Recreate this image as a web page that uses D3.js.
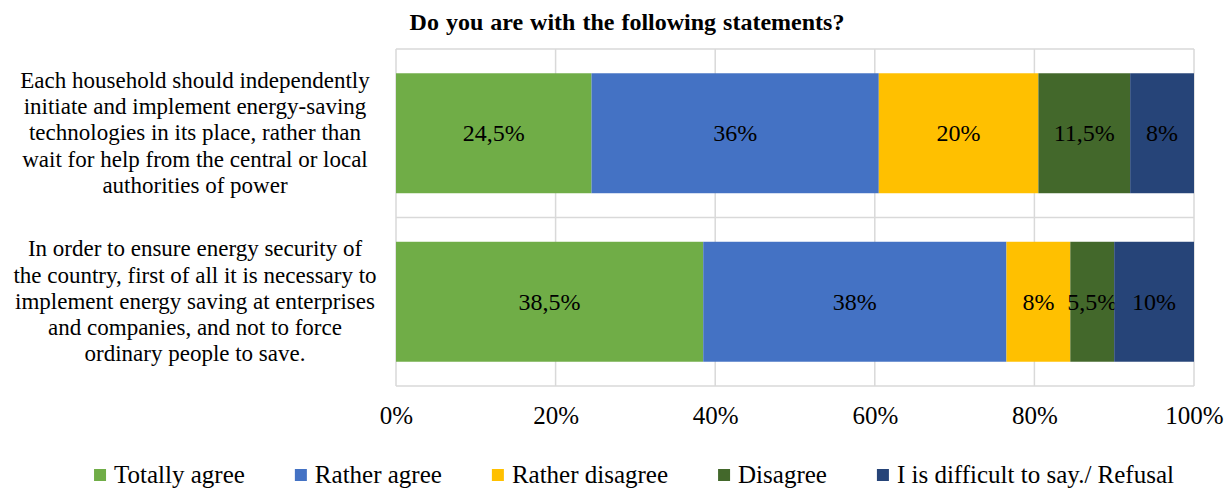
<!DOCTYPE html>
<html>
<head>
<meta charset="utf-8">
<script src="https://cdn.jsdelivr.net/npm/d3@7"></script>
<style>
    body { margin: 0; background: #fff; }
    svg text { font-family: "Liberation Serif", "Times New Roman", serif; fill: #000; }
</style>
</head>
<body>
<svg id="chart"></svg>
<script>
// 資料
const categoryLines = [
    ["Each household should independently",
     "initiate and implement energy-saving",
     "technologies in its place, rather than",
     "wait for help from the central or local",
     "authorities of power"],
    ["In order to ensure energy security of",
     "the country, first of all it is necessary to",
     "implement energy saving at enterprises",
     "and companies, and not to force",
     "ordinary people to save."]
];
const seriesNames = ["Totally agree", "Rather agree", "Rather disagree", "Disagree", "I is difficult to say./ Refusal"];
const seriesColors = ["#70AD47", "#4472C4", "#FFC000", "#43682B", "#264478"];
const totallyAgree   = [24.5, 38.5];
const ratherAgree    = [36, 38];
const ratherDisagree = [20, 8];
const disagree       = [11.5, 5.5];
const difficult      = [8, 10];
const tickValues = [0, 20, 40, 60, 80, 100];
const title = "Do you are with the following statements?";

const serif = '"Liberation Serif", "Times New Roman", serif';

// 組成 stack 需要的表格
const seriesValues = [totallyAgree, ratherAgree, ratherDisagree, disagree, difficult];
const table = categoryLines.map((lines, i) => {
    const row = { key: i };
    seriesNames.forEach((s, j) => row[s] = seriesValues[j][i]);
    return row;
});
const stacked = d3.stack().keys(seriesNames)(table);

// 逗號小數點
const fmt = d3.formatLocale({ decimal: ",", thousands: " ", grouping: [3], currency: ["", ""] }).format("~");

// 畫布尺寸
const svg_width = 1229;
const svg_height = 488;
const margin = { top: 49, right: 35, bottom: 102, left: 396 };

const svg = d3.select('#chart').attr('width', svg_width).attr('height', svg_height)
    .attr('font-family', serif);

const X_scale = d3.scaleLinear([0, 100], [margin.left, svg_width - margin.right]);
const Y_scale = d3.scaleBand().domain(table.map(d => d.key))
    .range([margin.top, svg_height - margin.bottom])
    .paddingInner(0.288).paddingOuter(0.144);

const step = Y_scale.step();
const gridColor = "#D9D9D9";

// 格線
const grid = svg.append('g').attr('class', 'grid');
grid.selectAll('line.v').data(tickValues).join('line').attr('class', 'v')
    .attr('x1', d => X_scale(d)).attr('x2', d => X_scale(d))
    .attr('y1', margin.top).attr('y2', svg_height - margin.bottom)
    .attr('stroke', gridColor).attr('stroke-width', 1.5);
const hLines = [margin.top].concat(table.map(d => Y_scale(d.key) - Y_scale.paddingOuter() * step + step));
grid.selectAll('line.h').data(hLines).join('line').attr('class', 'h')
    .attr('x1', margin.left).attr('x2', svg_width - margin.right)
    .attr('y1', d => d).attr('y2', d => d)
    .attr('stroke', gridColor).attr('stroke-width', 1.5);

// Bars
const layers = svg.append('g').attr('class', 'bars').selectAll('g').data(stacked).join('g')
    .attr('fill', (d, i) => seriesColors[i]);
layers.selectAll('rect').data(d => d).join('rect')
    .attr('x', d => X_scale(d[0]))
    .attr('y', d => Y_scale(d.data.key))
    .attr('width', d => X_scale(d[1]) - X_scale(d[0]))
    .attr('height', Y_scale.bandwidth());

// Bar labels
layers.selectAll('text').data(d => d).join('text')
    .attr('x', d => (X_scale(d[0]) + X_scale(d[1])) / 2)
    .attr('y', d => Y_scale(d.data.key) + Y_scale.bandwidth() / 2)
    .attr('dy', '0.33em')
    .attr('text-anchor', 'middle')
    .style('font-family', serif)
    .style('font-size', '24px')
    .text(d => fmt(d[1] - d[0]) + '%');

// x 軸刻度
const xAxis = d3.axisBottom(X_scale).tickValues(tickValues).tickFormat(d => d + '%').tickSize(0);
const xAxisDraw = svg.append('g').attr('transform', `translate(0,${svg_height - margin.bottom})`).call(xAxis);
xAxisDraw.attr('font-family', serif).attr('font-size', null);
xAxisDraw.select('.domain').remove();
xAxisDraw.selectAll('text').attr('y', 38).attr('dy', 0)
    .style('font-family', serif).style('font-size', '25px').attr('fill', '#000');

// 類別標籤
const labelX = 195;
const lineH = 26.25;
const cat = svg.append('g').attr('class', 'categories');
cat.selectAll('text').data(categoryLines).join('text')
    .attr('text-anchor', 'middle')
    .style('font-family', serif)
    .style('font-size', '23px')
    .each(function (lines, i) {
        const cy = Y_scale(i) + Y_scale.bandwidth() / 2;
        const y0 = cy + 7 - (lines.length - 1) / 2 * lineH;
        d3.select(this).selectAll('tspan').data(lines).join('tspan')
            .attr('x', labelX).attr('y', (d, k) => y0 + k * lineH).text(d => d);
    });

// 標題
svg.append('text').attr('x', 627).attr('y', 30)
    .attr('text-anchor', 'middle')
    .style('font-family', serif)
    .style('font-size', '24px').style('font-weight', 'bold')
    .style('word-spacing', '1px')
    .text(title);

// 圖例
const legend = svg.append('g').attr('class', 'legend');
const items = legend.selectAll('g').data(seriesNames).join('g');
items.append('rect').attr('width', 12).attr('height', 12).attr('y', 469)
    .attr('fill', (d, i) => seriesColors[i]);
items.append('text').attr('x', 20).attr('y', 483)
    .style('font-family', serif).style('font-size', '25px').text(d => d);
const gap = 50;
let widths = [];
items.select('text').each(function () { widths.push(20 + this.getComputedTextLength()); });
const total = d3.sum(widths) + gap * (widths.length - 1);
let cursor = 634 - total / 2;
items.attr('transform', (d, i) => {
    const x = cursor;
    cursor += widths[i] + gap;
    return `translate(${x},0)`;
});
</script>
</body>
</html>
